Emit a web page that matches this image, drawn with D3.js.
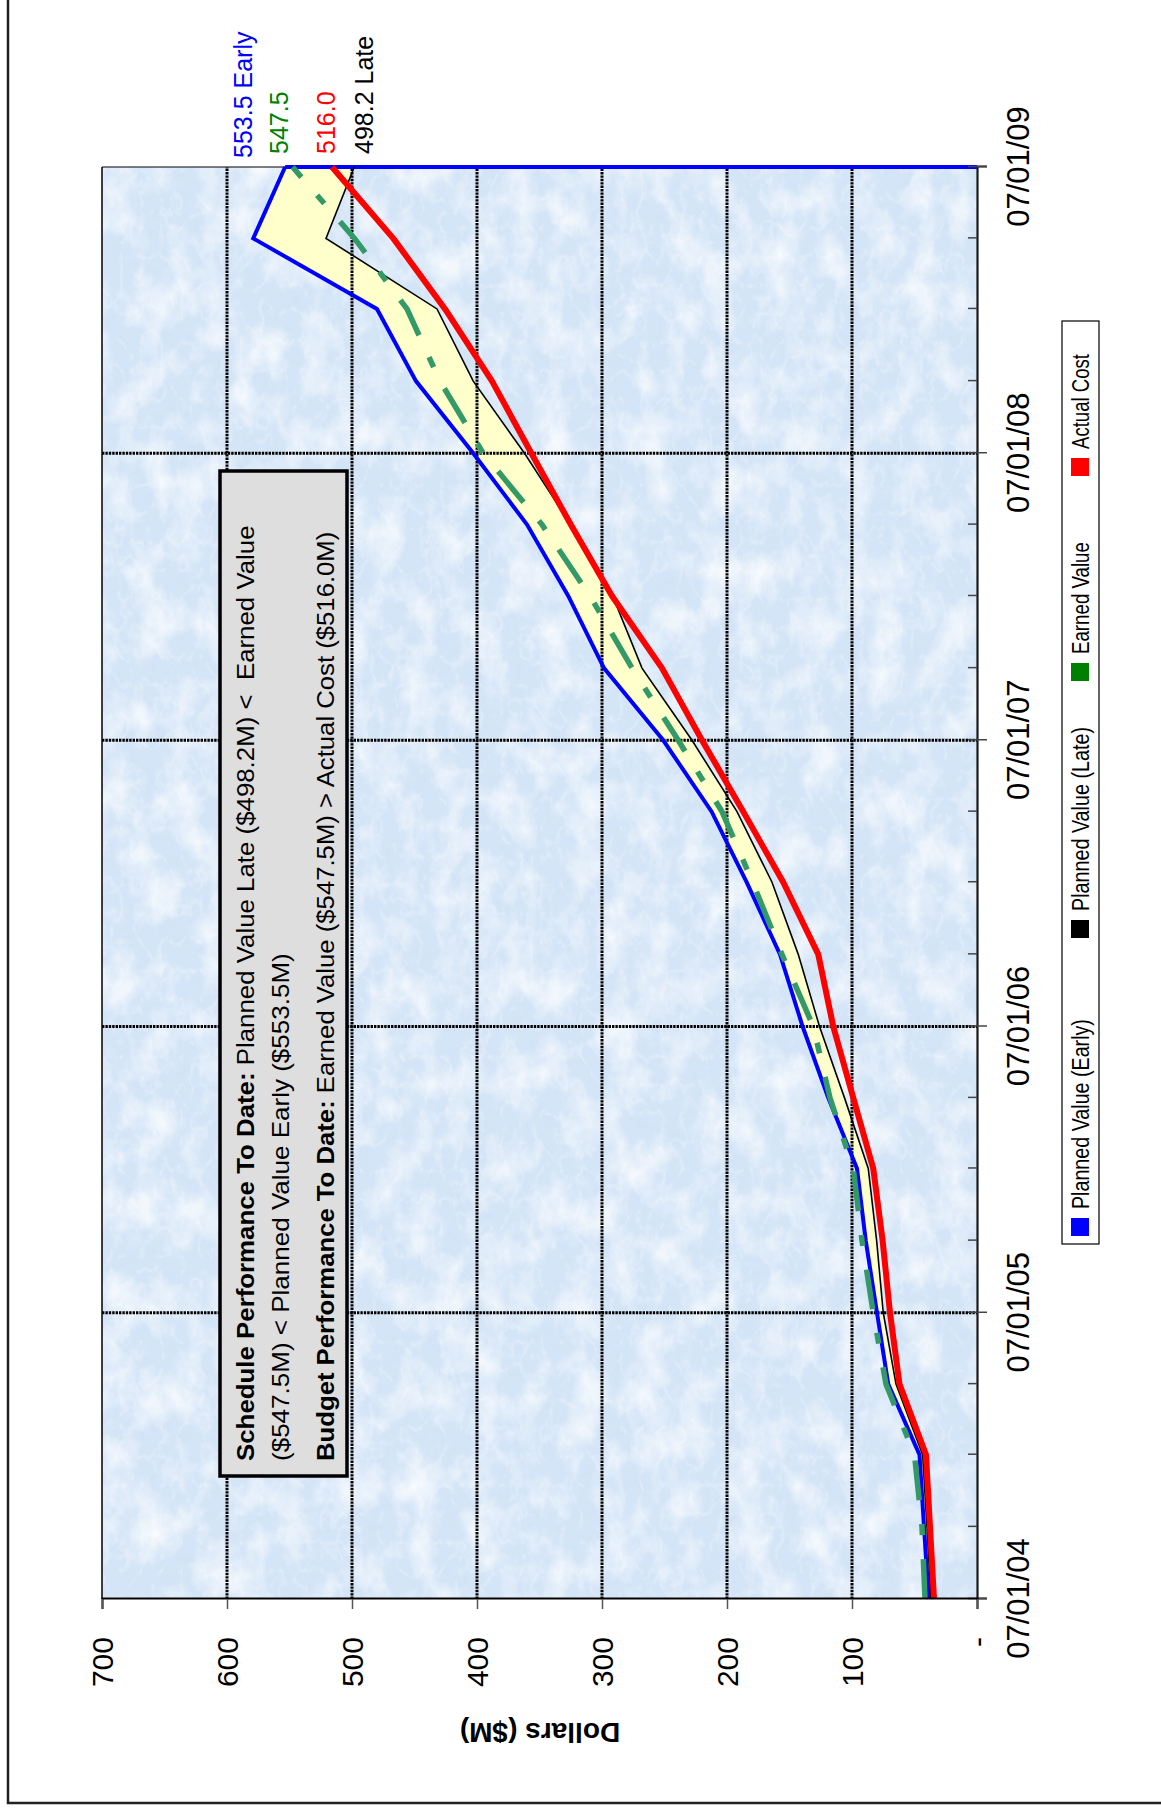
<!DOCTYPE html>
<html><head><meta charset="utf-8">
<script src="https://cdn.jsdelivr.net/npm/d3@7"></script>
<style>
html,body{margin:0;padding:0;background:#fff;}
svg{display:block;}
text{white-space:pre;}
</style></head>
<body>
<svg id="chart" width="1161" height="1811"></svg>
<script>
// Quarterly reporting dates
const quarterDates = ["2004-07-01","2004-10-01","2005-01-01","2005-04-01","2005-07-01","2005-10-01",
  "2006-01-01","2006-04-01","2006-07-01","2006-10-01","2007-01-01","2007-04-01","2007-07-01",
  "2007-10-01","2008-01-01","2008-04-01","2008-07-01","2008-10-01","2009-01-01","2009-04-01","2009-07-01"];
// Cumulative values, $M
const plannedEarly = [38.7,42.4,46,71,80,89,96,119,139.5,157.6,184.3,212.3,251,298.4,327,360,403,448.8,480,579,553.5];
const plannedLate  = [36.8,40,43.5,64.8,75,80.3,87,106,126,143,164,192,228,268,291.5,325,362,403,432,520.8,498.2];
const earnedValue  = [41.6,44,50,72.8,83,92,99,117.6,131,156,179.5,204,239,276,309.6,348,395,429.6,456,498,547.5];
const actualCost   = [34.4,37.6,40.8,62,69.6,75.5,83,99,115,127,155,187,220,252,292,325,356.5,388,425.6,467,516];
// Axis ticks
const yearDates  = ["2004-07-01","2005-07-01","2006-07-01","2007-07-01","2008-07-01","2009-07-01"];
const yearLabels = ["07/01/04","07/01/05","07/01/06","07/01/07","07/01/08","07/01/09"];
const dollarTicks  = [0,100,200,300,400,500,600,700];
const dollarLabels = ["-","100","200","300","400","500","600","700"];
// End-of-period callouts
const endLabels = [
  {text:"553.5 Early", color:"#0000ff"},
  {text:"547.5", color:"#008000"},
  {text:"516.0", color:"#ff0000"},
  {text:"498.2 Late", color:"#000000"}
];
const legendItems = [
  {name:"Planned Value (Early)", color:"#0000ff"},
  {name:"Planned Value (Late)", color:"#000000"},
  {name:"Earned Value", color:"#008000"},
  {name:"Actual Cost", color:"#ff0000"}
];
const noteLines = [
  [["Schedule Performance To Date:", true], [" Planned Value Late ($498.2M) <  Earned Value", false]],
  [["($547.5M) < Planned Value Early ($553.5M)", false]],
  [["Budget Performance To Date:", true], [" Earned Value ($547.5M) > Actual Cost ($516.0M)", false]]
];

const parse = d3.utcParse("%Y-%m-%d");
const svg = d3.select("#chart");
const ARIAL = "'Liberation Sans', Arial, Helvetica, sans-serif";
const NARROW = "'Liberation Sans Narrow', 'Arial Narrow', 'Liberation Sans', Arial, sans-serif";

// paper-like texture for the plot area
const defs = svg.append("defs");
const f = defs.append("filter").attr("id","paper").attr("x",0).attr("y",0).attr("width","100%").attr("height","100%");
f.append("feTurbulence").attr("type","fractalNoise").attr("baseFrequency","0.022 0.03").attr("numOctaves",5).attr("seed",3).attr("result","n1");
f.append("feColorMatrix").attr("in","n1").attr("type","matrix")
  .attr("values","0 0 0 0 1  0 0 0 0 1  0 0 0 0 1  0 0 1.7 0 -0.72").attr("result","w");
f.append("feTurbulence").attr("type","turbulence").attr("baseFrequency","0.035 0.05").attr("numOctaves",3).attr("seed",11).attr("result","n3");
f.append("feColorMatrix").attr("in","n3").attr("type","matrix")
  .attr("values","0 0 0 0 1  0 0 0 0 1  0 0 0 0 1  0 -1.3 0 0 0.28").attr("result","v");
f.append("feTurbulence").attr("type","fractalNoise").attr("baseFrequency","0.09").attr("numOctaves",2).attr("seed",9).attr("result","n2");
f.append("feColorMatrix").attr("in","n2").attr("type","matrix")
  .attr("values","0 0 0 0 0.66  0 0 0 0 0.75  0 0 0 0 0.92  0.8 0 0 0 -0.36").attr("result","d");
f.append("feMerge").call(m => {
  m.append("feMergeNode").attr("in","d");
  m.append("feMergeNode").attr("in","w");
  m.append("feMergeNode").attr("in","v");
});

// The chart is laid out landscape and turned a quarter turn counter-clockwise.
const root = svg.append("g").attr("transform","translate(0,1811) rotate(-90)");

// outer frame
root.append("rect").attr("x",8).attr("y",8).attr("width",1900).attr("height",1300)
  .attr("fill","none").attr("stroke","#222").attr("stroke-width",2.5);

const M = {left:212, top:102}, PW = 1432, PH = 875;
const x = d3.scaleUtc().domain([parse(yearDates[0]), parse(yearDates[yearDates.length-1])]).range([0, PW]);
const y = d3.scaleLinear().domain([0,700]).range([PH, 0]);

const g = root.append("g").attr("transform",`translate(${M.left},${M.top})`);

g.append("rect").attr("width",PW).attr("height",PH).attr("fill","#d4e5f7");
g.append("rect").attr("width",PW).attr("height",PH).attr("fill","#fff").attr("filter","url(#paper)");

const rows = quarterDates.map((d,i) => ({
  date: parse(d), early: plannedEarly[i], late: plannedLate[i], ev: earnedValue[i], ac: actualCost[i]
}));

// band between early and late plans
g.append("path").datum(rows)
  .attr("d", d3.area().x(d => x(d.date)).y0(d => y(d.late)).y1(d => y(d.early)))
  .attr("fill","#ffffcc");

// gridlines
const gridStyle = s => s.attr("stroke","#000").attr("stroke-width",3).attr("stroke-dasharray","2.4 1");
g.append("g").selectAll("line").data(dollarTicks.filter(v => v > 0 && v < 700)).join("line")
  .attr("x1",0).attr("x2",PW).attr("y1",d => y(d)).attr("y2",d => y(d)).call(gridStyle);
g.append("g").selectAll("line").data(yearDates.slice(1,-1)).join("line")
  .attr("x1",d => x(parse(d))).attr("x2",d => x(parse(d))).attr("y1",0).attr("y2",PH).call(gridStyle);

// plot frame: thin top and right edges
g.append("line").attr("x1",0).attr("x2",PW).attr("y1",0).attr("y2",0).attr("stroke","#000").attr("stroke-width",1.5);
g.append("line").attr("x1",PW).attr("x2",PW).attr("y1",0).attr("y2",PH).attr("stroke","#000").attr("stroke-width",1.2);

// early-plan area outline closing down to zero at the last date
const last = rows[rows.length-1];
g.append("line").attr("x1",x(last.date)).attr("x2",x(last.date)).attr("y1",y(last.early)).attr("y2",y(0))
  .attr("stroke","#0000ff").attr("stroke-width",4);

const line = key => d3.line().x(d => x(d.date)).y(d => y(d[key]));
g.append("path").datum(rows).attr("d", line("early")).attr("fill","none").attr("stroke","#0000ff").attr("stroke-width",4).attr("stroke-linejoin","miter");
g.append("path").datum(rows).attr("d", line("late")).attr("fill","none").attr("stroke","#000").attr("stroke-width",1.6);
g.append("path").datum(rows).attr("d", line("ev")).attr("fill","none").attr("stroke","#339966").attr("stroke-width",5.5).attr("stroke-dasharray","40 24 11 24");
g.append("path").datum(rows).attr("d", line("ac")).attr("fill","none").attr("stroke","#ff0000").attr("stroke-width",6).attr("stroke-linejoin","round");

// date axis
const xAxis = g.append("g").attr("transform",`translate(0,${PH})`)
  .call(d3.axisBottom(x).tickValues(yearDates.map(parse)).tickSize(10).tickPadding(20).tickFormat((d,i) => yearLabels[i]));
const xMinor = g.append("g").attr("transform",`translate(0,${PH})`)
  .call(d3.axisBottom(x).tickValues(quarterDates.map(parse)).tickSize(-9).tickFormat(""));
xMinor.select(".domain").remove();
[xAxis, xMinor].forEach(a => a.selectAll(".tick line").attr("stroke","#444").attr("stroke-width",1.5));
xAxis.select(".domain").attr("stroke","#1a1a1a").attr("stroke-width",2.2);
xAxis.selectAll("text").attr("font-family",ARIAL).attr("font-size",31).attr("fill","#000");

// dollar axis
const yAxis = g.append("g")
  .call(d3.axisLeft(y).tickValues(dollarTicks).tickSize(10).tickPadding(28).tickFormat((d,i) => dollarLabels[i]));
yAxis.select(".domain").attr("stroke","#000").attr("stroke-width",2);
yAxis.selectAll(".tick line").attr("stroke","#555").attr("stroke-width",1.5);
yAxis.selectAll("text").attr("font-family",ARIAL).attr("font-size",30).attr("fill","#000").attr("dy","0.36em");

// axis title
root.append("text").attr("transform","translate(88,540) rotate(-90)").attr("text-anchor","middle")
  .attr("font-family",ARIAL).attr("font-size",28).attr("font-weight","bold").text("Dollars ($M)");

// callouts beside the last date
const endBase = [252, 288, 335, 373], endStart = [1653, 1657, 1657, 1657];
root.append("g").selectAll("text").data(endLabels).join("text")
  .attr("x",(d,i) => endStart[i]).attr("y",(d,i) => endBase[i])
  .attr("font-family",ARIAL).attr("font-size",25).attr("fill",d => d.color).text(d => d.text);

// helper: stretch a text element to a target length along its baseline
function fitText(sel, target) {
  const w = sel.node().getComputedTextLength();
  if (w > 0) sel.attr("transform", `${sel.attr("data-base")} scale(${target / w},1)`);
}

// summary note
const note = root.append("g");
note.append("rect").attr("x",335).attr("y",220).attr("width",1005).attr("height",127)
  .attr("fill","#dedede").attr("stroke","#000").attr("stroke-width",3.5);
const noteBase = [254, 289, 334], noteLen = [936, 508, 930];
noteLines.forEach((segs, i) => {
  const t = note.append("text").attr("data-base",`translate(350,${noteBase[i]})`)
    .attr("transform",`translate(350,${noteBase[i]})`)
    .attr("font-family",NARROW).attr("font-size",23).attr("fill","#000");
  segs.forEach(([s,b]) => t.append("tspan").attr("font-weight", b ? "bold" : "normal").text(s));
  fitText(t, noteLen[i]);
});

// legend
const lg = root.append("g");
lg.append("rect").attr("x",567).attr("y",1062).attr("width",923).attr("height",37)
  .attr("fill","#fff").attr("stroke","#000").attr("stroke-width",1.2);
const swatchX = [575, 873, 1130, 1335], textLen = [190, 184, 112, 95];
legendItems.forEach((d,i) => {
  lg.append("rect").attr("x",swatchX[i]).attr("y",1071).attr("width",18).attr("height",18).attr("fill",d.color);
  const t = lg.append("text").attr("data-base",`translate(${swatchX[i]+27},1089)`)
    .attr("transform",`translate(${swatchX[i]+27},1089)`)
    .attr("font-family",NARROW).attr("font-size",24).attr("fill","#000").text(d.name);
  fitText(t, textLen[i]);
});
</script>
</body></html>
